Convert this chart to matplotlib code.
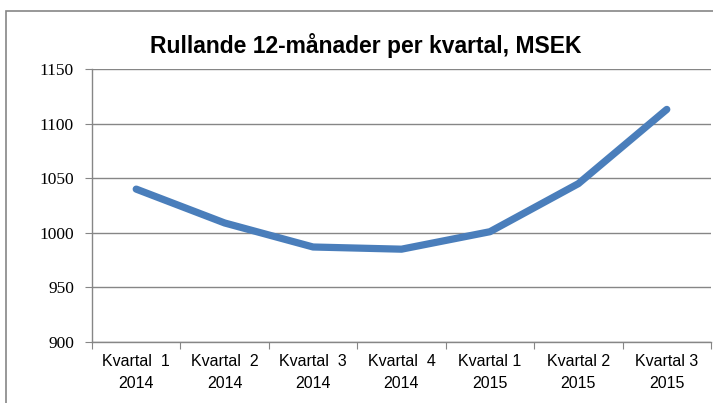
import matplotlib
matplotlib.use('Agg')
import matplotlib.pyplot as plt
from matplotlib.patches import Rectangle

# quarterly rolling 12-month values, MSEK
quarters = ["Kvartal  1\n2014", "Kvartal  2\n2014", "Kvartal  3\n2014", "Kvartal  4\n2014",
            "Kvartal 1\n2015", "Kvartal 2\n2015", "Kvartal 3\n2015"]
values = [1040, 1009, 987, 985, 1001, 1045, 1113]
y_ticks = [900, 950, 1000, 1050, 1100, 1150]

W, H = 713, 403
fig = plt.figure(figsize=(W / 100, H / 100), dpi=100)
ax = fig.add_axes([92 / W, 1 - 342 / H, (711 - 92) / W, (342 - 69) / H])

grey = '#868686'
x = list(range(len(values)))
ax.plot(x, values, color='#4a7ebb', linewidth=5.2, solid_capstyle='round',
        solid_joinstyle='round', zorder=3)

ax.set_xlim(-0.5, len(values) - 0.5)
ax.set_ylim(900, 1150)
ax.set_yticks(y_ticks)
ax.set_yticklabels([str(v) for v in y_ticks], family=['Liberation Serif', 'DejaVu Serif'],
                   fontsize=12.5)
ax.set_xticks([i + 0.5 for i in range(-1, len(values))], minor=False)
ax.set_xticklabels([])
ax.set_xticks(x, minor=True)
ax.set_xticklabels(quarters, minor=True, family=['Liberation Sans'],
                   fontsize=11.5, linespacing=1.55)
ax.tick_params(axis='x', which='minor', length=0, pad=9)
ax.tick_params(axis='x', which='major', length=5, color=grey)
ax.tick_params(axis='y', length=5, color=grey, pad=8)

ax.grid(axis='y', color=grey, linewidth=1)
ax.set_axisbelow(True)
for s in ['top', 'right']:
    ax.spines[s].set_visible(False)
for s in ['left', 'bottom']:
    ax.spines[s].set_color(grey)
    ax.spines[s].set_linewidth(1)

fig.text(366 / W, 1 - 45 / H, "Rullande 12-månader per kvartal, MSEK", ha='center', va='center',
         fontsize=16.5, fontweight='bold', family=['Liberation Sans'])

# outer chart frame, cut off at the right and bottom
fig.add_artist(Rectangle((6 / W, -0.1), 1.2, 1.1 - 11 / H, transform=fig.transFigure,
                         fill=False, edgecolor=grey, linewidth=1.2))

fig.savefig('out.png', dpi=100)
